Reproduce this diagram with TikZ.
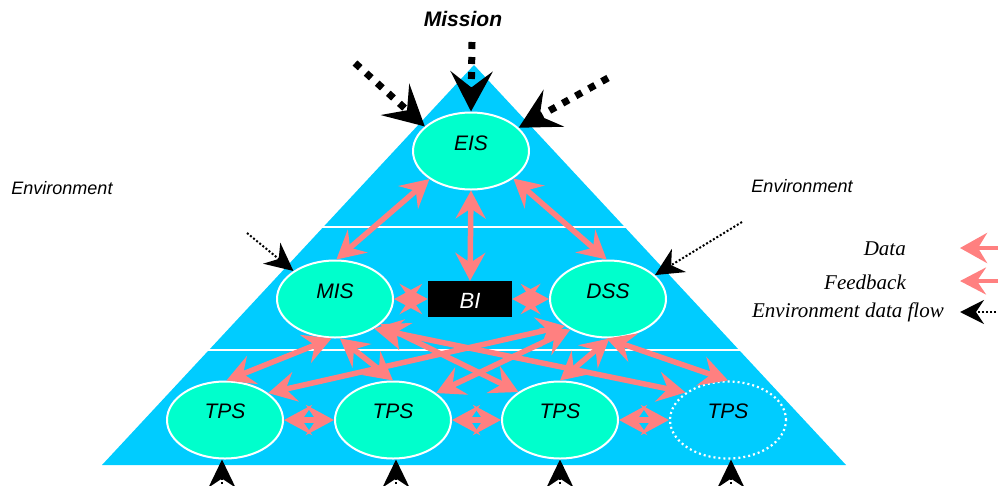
\documentclass[tikz,border=0pt]{standalone}
\usepackage{fontspec}
\setmainfont{Liberation Serif}
\setsansfont{Liberation Sans}
\usetikzlibrary{shapes.geometric,arrows.meta}
\definecolor{pyr}{HTML}{00CCFF}
\definecolor{nodefill}{HTML}{00FFCC}
\definecolor{redarr}{HTML}{FF8080}
\begin{document}
\begin{tikzpicture}[x=1pt,y=-1pt,
  sys/.style={ellipse, draw=white, line width=2pt, fill=nodefill, minimum width=116pt, minimum height=77pt, inner sep=0pt},
  ghost/.style={ellipse, draw=white, line width=2.2pt, dash pattern=on 2pt off 3pt, minimum width=116pt, minimum height=77pt, inner sep=0pt},
  systxt/.style={font=\fontsize{21}{21}\selectfont\sffamily\itshape, inner sep=0pt},
  dataarr/.style={draw=redarr, line width=5.5pt, arrows={Stealth[length=28pt,width=30pt,inset=10pt]-Stealth[length=28pt,width=30pt,inset=10pt]}},
  envbig/.style={line width=7pt, dash pattern=on 7pt off 8pt, -{Stealth[length=40pt,width=42pt,inset=16pt]}},
  envsmall/.style={line width=2pt, dash pattern=on 2pt off 2pt, -{Stealth[length=28pt,width=27pt,inset=9pt]}},
  legtxt/.style={font=\fontsize{21}{21}\selectfont\itshape, inner sep=0pt, anchor=east},
  envtxt/.style={font=\fontsize{18}{18}\selectfont\sffamily\itshape, inner sep=0pt}
]
\useasboundingbox (0,0) rectangle (998,485);
\clip (0,0) rectangle (998,485);

% pyramid
\fill[pyr] (474,65) -- (846,465) -- (102,465) -- cycle;
\draw[white, line width=2.5pt] (322,227) -- (626,227);
\draw[white, line width=2.5pt] (208,350) -- (740,350);

% nodes
\node[sys] (eis) at (471,151) {};
\node[sys] (mis) at (335,299) {};
\node[sys] (dss) at (608,299) {};
\node[fill=black, minimum width=84pt, minimum height=36pt, inner sep=0pt] (bi) at (470,299) {};
\node[sys] (tps1) at (225,420) {};
\node[sys] (tps2) at (393,420) {};
\node[sys] (tps3) at (560,420) {};
\node[ghost] (tps4) at (728,420) {};

\node[systxt] (eisl) at ([yshift=8pt]eis.center) {EIS};
\node[systxt] (misl) at ([yshift=8pt]mis.center) {MIS};
\node[systxt] (dssl) at ([yshift=8pt]dss.center) {DSS};
\node[systxt, font=\fontsize{22}{22}\selectfont\sffamily\itshape, text=white] (bil) at ([yshift=-2pt]bi.center) {BI};
\node[systxt] (tps1l) at ([yshift=9pt]tps1.center) {TPS};
\node[systxt] (tps2l) at ([yshift=9pt]tps2.center) {TPS};
\node[systxt] (tps3l) at ([yshift=9pt]tps3.center) {TPS};
\node[systxt] (tps4l) at ([yshift=9pt]tps4.center) {TPS};

% data / feedback connectors
\draw[dataarr] (eis.214) -- (mis.88);
\draw[dataarr] (eis.327) -- (dss.92);
\draw[dataarr] (eis.south) -- (bi.north);
\draw[dataarr] (mis.east) -- (bi.west);
\draw[dataarr] (bi.east) -- (dss.west);
\draw[dataarr] (mis.265) -- (tps1.88);
\draw[dataarr] (mis.277) -- (tps2.north);
\draw[dataarr] (mis.331) -- (tps3.146);
\draw[dataarr] (mis.323) -- (tps4.147);
\draw[dataarr] (dss.212) -- (tps1.32);
\draw[dataarr] (dss.219) -- (tps2.32);
\draw[dataarr] (dss.272) -- (tps3.north);
\draw[dataarr] (dss.268) -- (tps4.north);
\draw[dataarr] (tps1.east) -- (tps2.west);
\draw[dataarr] (tps2.east) -- (tps3.west);
\draw[dataarr] (tps3.east) -- (tps4.west);

% environment flows
\node[font=\fontsize{21}{21}\selectfont\sffamily\bfseries\itshape, inner sep=0pt] (mission) at (463,19) {Mission};
\coordinate (mstart) at (472,42);
\coordinate (tlstart) at (355,63);
\coordinate (trstart) at (608,78);
\coordinate (mlstart) at (247,233);
\coordinate (drstart) at (742,222);
\draw[envbig] (mstart) -- (eis.north);
\draw[envbig] (tlstart) -- (eis.152);
\draw[envbig] (trstart) -- (eis.26);
\draw[envsmall] (mlstart) -- (mis.146);
\draw[envsmall] (drstart) -- (dss.27);
\coordinate (b1) at (222,520);
\coordinate (b2) at (396,520);
\coordinate (b3) at (560,520);
\coordinate (b4) at (731,520);
\draw[envsmall] (b1) -- (b1 |- tps1.south);
\draw[envsmall] (b2) -- (b2 |- tps2.south);
\draw[envsmall] (b3) -- (b3 |- tps3.south);
\draw[envsmall] (b4) -- (b4 |- tps4.south);

\node[envtxt] (envl) at (62,188) {Environment};
\node[envtxt] (envr) at (802,186) {Environment};

% legend
\node[legtxt] (ldata) at (906,249) {Data};
\node[legtxt] (lfeed) at (906,282) {Feedback};
\node[legtxt] (lenv) at (944,312) {Environment data flow};
\coordinate (ld1) at (1020,248);
\coordinate (ld2) at (960,248);
\coordinate (lf1) at (1020,281);
\coordinate (lf2) at (960,281);
\coordinate (le1) at (1020,312);
\coordinate (le2) at (960,312);
\draw[draw=redarr, line width=4.5pt, -{Stealth[length=27pt,width=30pt,inset=9pt]}] (ld1) -- (ld2);
\draw[draw=redarr, line width=3.5pt, -{Stealth[length=26pt,width=27pt,inset=9pt]}] (lf1) -- (lf2);
\draw[line width=2pt, dash pattern=on 2pt off 2pt, -{Stealth[length=24pt,width=24pt,inset=8pt]}] (le1) -- (le2);
\end{tikzpicture}
\end{document}
